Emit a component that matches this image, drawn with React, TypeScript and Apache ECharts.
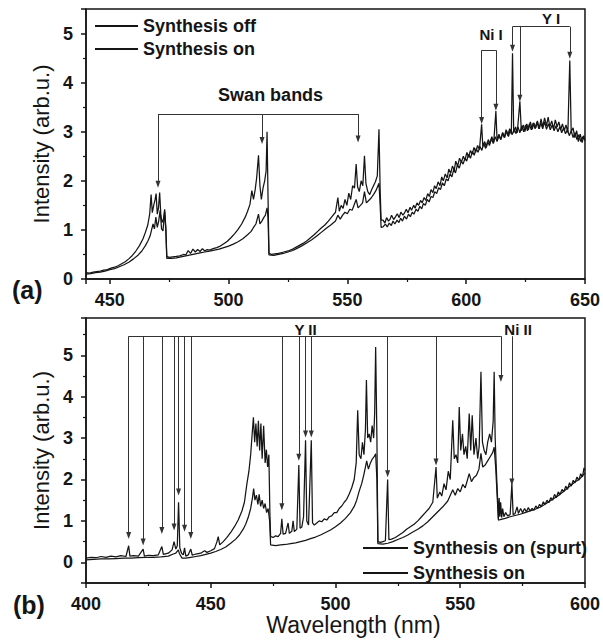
import React, { useEffect, useRef } from 'react';
import * as echarts from 'echarts';

// ---------- Panel (a): wavelength (nm), intensity (arb.u.) ----------
const aOn: [number, number][] = [
  [440,0.13],[441.5,0.12],[443,0.14],[444.5,0.15],[446,0.16],[447.5,0.18],[449,0.19],[450.5,0.22],[452,0.24],[453.5,0.27],[455,0.31],[456.5,0.35],[458,0.41],[459.5,0.48],[461,0.57],[462.5,0.68],[464,0.82],[465,0.95],[466,1.1],[466.8,1.32],[467.4,1.72],[467.9,1.35],[468.5,1.5],[469.1,1.62],[469.5,1.74],[470,1.32],[470.5,1.45],[471,1.76],[471.5,1.3],[472,1.15],[472.6,1.22],[473.1,1.42],[473.6,1.05],[474,0.46],[475,0.44],[476.5,0.45],[478,0.46],[479.5,0.47],[481,0.5],[482,0.49],[483,0.58],[484,0.52],[485,0.61],[486,0.55],[487,0.6],[488,0.56],[489,0.62],[490,0.57],[491,0.6],[492,0.59],[493.5,0.62],[495,0.64],[496.5,0.67],[498,0.72],[499.5,0.77],[501,0.84],[502.5,0.92],[504,1.01],[505.5,1.12],[507,1.26],[508,1.38],[509,1.52],[509.8,1.8],[510.5,1.62],[511.2,1.82],[511.8,2.05],[512.6,2.52],[513.2,1.9],[513.8,1.62],[514.5,1.85],[515.2,2.0],[515.8,2.2],[516.2,3.0],[516.6,1.7],[517,0.53],[518,0.5],[519.5,0.51],[521,0.52],[522.5,0.54],[524,0.56],[525.5,0.58],[527,0.61],[528.5,0.65],[530,0.69],[531.5,0.73],[533,0.78],[534.5,0.84],[536,0.9],[537.5,0.97],[539,1.04],[540.5,1.1],[542,1.18],[543.5,1.27],[545,1.36],[546,1.66],[546.6,1.38],[547.4,1.5],[548.2,1.44],[549,1.62],[549.8,1.5],[550.6,1.75],[551.4,1.62],[552.2,1.9],[553,1.85],[553.7,2.34],[554.3,1.88],[555,1.78],[555.8,2.0],[556.5,1.9],[557.2,2.51],[557.8,1.95],[558.6,1.78],[559.4,1.72],[560.2,1.82],[561,1.9],[561.8,1.98],[562.6,2.1],[563.3,3.05],[563.8,1.8],[564.2,1.2],
  [565,1.2],[565.8,1.14],[566.5,1.25],[567.3,1.18],[568,1.22],[568.6,1.3],[569.5,1.21],[570.3,1.27],[571,1.33],[571.8,1.25],[572.5,1.36],[573.4,1.3],[574,1.34],[574.8,1.42],[575.5,1.35],[576.4,1.46],[577,1.4],[577.9,1.5],[578.5,1.44],[579.3,1.55],[580,1.5],[580.8,1.6],[581.5,1.55],[582.3,1.66],[583,1.6],[583.8,1.74],[584.5,1.68],[585.2,1.82],[586,1.76],[586.7,1.9],[587.4,1.84],[588.2,1.98],[589,1.9],[589.7,2.08],[590.4,2.0],[591.2,2.14],[592,2.06],[592.7,2.24],[593.5,2.15],[594.2,2.3],[595,2.22],[595.6,2.4],[596.4,2.3],[597.2,2.46],[598,2.38],[598.8,2.5],[599.5,2.42],[600.3,2.58],[601,2.48],[601.8,2.62],[602.5,2.54],[603.3,2.68],[604,2.58],[604.8,2.72],[605.6,2.64],[606.5,3.15],[607,2.7],[607.8,2.8],[608.5,2.68],[609.3,2.84],[610,2.76],[610.8,2.9],[611.6,2.78],[612.5,3.42],[613,2.82],[613.8,2.95],[614.5,2.84],[615.3,2.98],[616,2.88],[616.8,3.04],[617.5,2.92],[618.3,3.06],[619,2.95],[619.5,4.6],[620,2.98],[620.8,3.1],[621.5,2.98],[622.6,3.62],[623.2,3.02],[624,3.14],[624.7,3.0],[625.5,3.16],[626.2,3.04],[627,3.2],[627.8,3.05],[628.5,3.18],[629.3,3.08],[630,3.22],[630.8,3.06],[631.5,3.26],[632.2,3.1],[633,3.28],[633.8,3.12],[634.5,3.3],[635.2,3.1],[636,3.22],[636.8,3.06],[637.5,3.24],[638.3,3.1],[639,3.2],[639.8,3.04],[640.5,3.16],[641.3,3.02],[642,3.14],[642.8,2.98],[643.6,4.45],[644.2,3.0],[645,3.08],[645.7,2.88],[646.5,3.02],[647.2,2.8],[648,2.95],[648.8,2.78],[649.5,2.92],[650,2.84],
];

const aOff: [number, number][] = [
  [440,0.1],[442,0.11],[444,0.13],[446,0.14],[448,0.16],[450,0.19],[452,0.21],[454,0.25],[456,0.29],[458,0.34],[460,0.41],[462,0.49],[463.5,0.57],[465,0.68],[466,0.77],[467,0.88],[467.6,1.0],[468.2,1.12],[468.8,1.02],[469.4,1.26],[470,1.05],[470.6,1.18],[471.2,1.4],[471.8,1.02],[472.4,0.98],[473.1,1.38],[473.6,0.98],[474,0.42],[476,0.42],[478,0.43],[480,0.45],[482,0.47],[484,0.49],[486,0.51],[488,0.53],[490,0.55],[492,0.57],[494,0.59],[496,0.61],[498,0.64],[500,0.67],[502,0.71],[504,0.76],[506,0.82],[508,0.9],[509.5,0.97],[510.5,1.05],[511.5,1.12],[512.6,1.32],[513.2,1.12],[514,1.18],[514.8,1.25],[515.5,1.3],[516.2,1.45],[516.6,1.25],[517,0.49],[519,0.48],[521,0.5],[523,0.52],[525,0.55],[527,0.58],[529,0.63],[531,0.68],[533,0.74],[535,0.8],[537,0.87],[539,0.95],[541,1.03],[543,1.1],[545,1.18],[546,1.3],[547,1.22],[548,1.3],[549,1.36],[550,1.33],[551,1.42],[552,1.4],[553.7,1.62],[554.5,1.45],[555.5,1.5],[556.4,1.55],[557.2,1.78],[558,1.55],[559,1.6],[560,1.65],[561,1.72],[562,1.8],[563.3,1.95],[563.8,1.5],[564.2,1.05],
  [565,1.06],[566,1.12],[566.8,1.06],[567.6,1.14],[568.5,1.09],[569.2,1.18],[570,1.12],[570.9,1.2],[571.7,1.15],[572.4,1.24],[573.2,1.18],[574,1.28],[574.9,1.22],[575.7,1.32],[576.5,1.27],[577.3,1.36],[578,1.32],[578.9,1.42],[579.7,1.38],[580.5,1.48],[581.3,1.43],[582,1.54],[582.8,1.5],[583.6,1.62],[584.4,1.57],[585.2,1.68],[586,1.66],[586.8,1.78],[587.6,1.74],[588.4,1.86],[589.2,1.82],[590,1.96],[590.8,1.9],[591.6,2.04],[592.4,2.0],[593.2,2.14],[594,2.08],[594.8,2.24],[595.5,2.16],[596.3,2.32],[597.1,2.26],[597.9,2.4],[598.7,2.34],[599.5,2.46],[600.2,2.4],[601,2.54],[601.8,2.46],[602.6,2.6],[603.4,2.52],[604.2,2.66],[605,2.58],[605.8,2.7],[606.6,2.62],[607.4,2.76],[608.2,2.66],[609,2.8],[609.8,2.72],[610.6,2.86],[611.4,2.76],[612.2,2.9],[613,2.8],[613.8,2.92],[614.6,2.84],[615.4,2.98],[616.2,2.88],[617,3.02],[617.8,2.9],[618.6,3.04],[619.4,2.94],[620.2,3.06],[621,2.96],[621.8,3.1],[622.6,2.98],[623.4,3.12],[624.2,3.0],[625,3.14],[625.8,3.02],[626.6,3.16],[627.4,3.04],[628.2,3.18],[629,3.06],[629.8,3.2],[630.6,3.06],[631.4,3.18],[632.2,3.06],[633,3.2],[633.8,3.05],[634.6,3.16],[635.4,3.04],[636.2,3.14],[637,3.02],[637.8,3.12],[638.6,3.0],[639.4,3.1],[640.2,2.98],[641,3.08],[641.8,2.96],[642.6,3.04],[643.4,2.92],[644.2,3.02],[645,2.88],[645.8,2.98],[646.6,2.84],[647.4,2.94],[648.2,2.8],[649,2.9],[650,2.82],
];

// ---------- Panel (b) ----------
const bSpurt: [number, number][] = [
  [400,0.1],[402,0.12],[404,0.11],[406,0.14],[408,0.12],[410,0.15],[412,0.13],[414,0.16],[416,0.14],[417.1,0.4],[417.6,0.15],[419,0.16],[421,0.15],[422.9,0.32],[423.4,0.15],[425,0.17],[427,0.16],[429,0.18],[430.4,0.38],[431,0.19],[433,0.22],[434.5,0.3],[435.3,0.5],[436,0.32],[436.6,0.4],[437.1,1.45],[437.6,0.35],[438.3,0.22],[439,0.18],[439.5,0.35],[440,0.15],[441,0.18],[442,0.32],[442.6,0.17],[444,0.2],[446,0.22],[447.5,0.28],[448.5,0.24],[450,0.28],[451.5,0.33],[452.5,0.5],[453,0.62],[453.6,0.42],[455,0.5],[456.5,0.6],[458,0.72],[459.5,0.86],[461,1.02],[462.5,1.24],[463.5,1.45],[464.5,1.9],[465.3,2.2],[466,2.6],[466.6,3.1],[467.1,3.5],[467.6,2.9],[468.1,3.35],[468.6,2.8],[469.1,3.42],[469.6,2.7],[470.1,3.35],[470.6,2.5],[471.2,3.3],[471.8,2.4],[472.3,2.72],[472.8,2.3],[473.3,2.6],[473.7,1.2],[474,0.62],[475,0.6],[476,0.64],[477,0.62],[478,0.7],[478.5,1.05],[479,0.68],[480,0.7],[481,0.95],[481.5,0.7],[482.5,0.75],[483,1.0],[483.5,0.74],[484.5,0.8],[485.3,2.35],[485.8,0.82],[486.5,0.85],[487.2,1.1],[488,2.95],[488.5,1.0],[489.2,0.9],[490.3,2.95],[490.8,0.95],[491.5,0.9],[492.5,0.95],[493.5,1.0],[494.5,0.98],[495.5,1.05],[496.5,1.02],[497.5,1.1],[498.5,1.12],[499.5,1.2],[500.5,1.2],[501.5,1.3],[502.5,1.36],[503.5,1.45],[504.5,1.52],[505.5,1.65],[506.5,1.8],[507.5,2.0],[508.3,2.4],[508.9,3.67],[509.5,2.6],[510.2,2.5],[510.8,2.9],[511.4,2.6],[512,3.2],[512.4,4.4],[512.9,3.0],[513.5,3.1],[514.1,2.9],[514.7,3.3],[515.3,3.0],[515.7,3.6],[516.1,5.2],[516.6,3.0],[517,0.5],[518,0.48],[519,0.5],[520,0.52],[520.9,2.0],[521.4,0.55],[522.5,0.56],[524,0.6],[525.5,0.66],[527,0.72],[528.5,0.8],[530,0.86],[531.5,0.92],[533,1.0],[534.5,1.1],[536,1.2],[537.5,1.3],[539,1.45],[540.3,2.3],[540.8,1.55],[541.8,1.7],[542.6,1.6],[543.5,1.9],[544.3,1.75],[545.2,2.2],[546,2.0],[547,3.43],[547.6,2.5],[548.3,2.6],[549,2.4],[549.6,3.75],[550.2,2.7],[550.9,3.1],[551.5,2.6],[552.2,2.8],[552.8,2.5],[553.6,3.59],[554.2,2.7],[554.8,3.55],[555.5,2.6],[556.3,3.0],[557,2.5],[557.6,2.8],[558.3,4.6],[558.9,2.9],[559.6,2.7],[560.3,2.6],[561,2.9],[561.8,3.1],[562.5,2.9],[563.2,3.4],[563.6,4.6],[564,3.0],[564.5,2.2],[565,1.5],[565.3,1.05],[565.6,1.55],[565.9,1.1],[566.2,1.45],[566.6,1.08],[567,1.3],[567.5,1.1],[568.2,1.2],[569,1.12],[570,1.15],[570.7,1.9],[571.2,1.15],[572,1.18],[572.8,1.34],[573.3,1.18],[574.2,1.3],[575,1.2],[575.8,1.3],[576.5,1.22],[577.3,1.32],[578,1.24],[578.8,1.3],[579.5,1.26],[580.3,1.36],[581,1.3],[581.8,1.4],[582.5,1.34],[583.3,1.46],[584,1.4],[584.8,1.5],[585.5,1.44],[586.3,1.56],[587,1.5],[587.8,1.64],[588.5,1.56],[589.3,1.7],[590,1.64],[590.8,1.76],[591.5,1.7],[592.3,1.84],[593,1.76],[593.8,1.92],[594.5,1.84],[595.3,1.98],[596,1.92],[596.8,2.06],[597.5,1.98],[598.3,2.14],[599,2.06],[599.6,2.28],[600,2.22],
];

const bOn: [number, number][] = [
  [400,0.06],[403,0.07],[406,0.08],[409,0.08],[412,0.09],[415,0.1],[418,0.1],[421,0.11],[424,0.12],[427,0.12],[430,0.13],[433,0.15],[435,0.2],[436,0.22],[437,0.3],[437.5,0.2],[438.5,0.1],[440,0.1],[442,0.12],[444,0.14],[446,0.16],[448,0.19],[450,0.22],[452,0.26],[454,0.31],[456,0.37],[458,0.46],[460,0.56],[461.5,0.66],[463,0.8],[464,0.92],[465,1.08],[466,1.3],[466.7,1.55],[467.2,1.78],[467.7,1.5],[468.3,1.62],[468.9,1.4],[469.4,1.64],[470,1.35],[470.6,1.5],[471.2,1.3],[471.8,1.42],[472.4,1.2],[473,1.3],[473.6,1.0],[474,0.42],[476,0.4],[478,0.42],[480,0.43],[482,0.45],[484,0.47],[486,0.5],[488,0.53],[490,0.57],[492,0.61],[494,0.66],[496,0.72],[498,0.78],[500,0.86],[502,0.95],[504,1.06],[506,1.2],[507.5,1.35],[508.5,1.5],[509.5,1.72],[510.5,1.9],[511.3,2.1],[512,2.3],[512.5,2.45],[513.2,2.25],[514,2.4],[514.8,2.5],[515.5,2.55],[516.1,2.62],[516.6,2.0],[517,0.45],[519,0.44],[521,0.46],[523,0.5],[525,0.55],[527,0.6],[529,0.66],[531,0.73],[533,0.8],[535,0.88],[537,0.98],[539,1.1],[541,1.22],[543,1.34],[545,1.48],[547,1.75],[548,1.62],[549,1.78],[550,1.7],[551,1.88],[552,1.8],[553.6,2.14],[554.5,1.95],[555.5,2.05],[556.5,2.1],[557.5,2.25],[558.3,2.63],[559,2.3],[560,2.35],[561,2.45],[562,2.55],[563,2.65],[563.6,2.78],[564.2,2.3],[564.8,1.6],[565.3,1.02],[566,1.03],[568,1.06],[570,1.1],[572,1.13],[574,1.16],[576,1.2],[578,1.24],[580,1.28],[582,1.33],[584,1.4],[586,1.48],[588,1.56],[590,1.64],[592,1.74],[594,1.84],[596,1.94],[598,2.02],[600,2.16],
];

// ---------- Line identification brackets (wavelength, bar level, arrow tip) ----------
const swanLines = [470.3, 514.1, 554.5];
const swanTips = [1.93, 2.82, 2.85];
const swanBar = 3.36;
const niILines = [606.5, 612.5];
const niITips = [3.23, 3.5];
const niIBar = 4.66;
const yILines = [619.5, 622.6, 643.6];
const yITips = [4.7, 3.68, 4.56];
const yIBar = 5.14;
const bLines = [417.1, 422.9, 430.4, 435.3, 437.1, 439.5, 442.0, 478.5, 485.3, 488.0, 490.3, 520.9, 540.3, 566.3];
const bTips = [0.65, 0.49, 0.77, 0.85, 1.7, 0.82, 0.65, 1.34, 2.54, 3.1, 3.1, 2.14, 2.42, 4.44];
const bBar = 5.46;
const niIILine = 570.7;
const niIITip = 1.94;

const aLabels: { name: string; coord: [number, number] }[] = [
  { name: 'Swan bands', coord: [517.7, 3.74] },
  { name: 'Ni I', coord: [610.5, 4.98] },
  { name: 'Y I', coord: [635.7, 5.3] },
];
const bLabels: { name: string; coord: [number, number] }[] = [
  { name: 'Y II', coord: [488, 5.63] },
  { name: 'Ni II', coord: [573.2, 5.63] },
];

const FONT = '"Liberation Sans", Arial, sans-serif';
const INK = '#151515';

function bracket(xs: number[], tips: number[], bar: number, withBar = true) {
  const out: any[] = [];
  if (withBar && xs.length > 1) {
    out.push([
      { coord: [Math.min(...xs), bar], symbol: 'none' },
      { coord: [Math.max(...xs), bar], symbol: 'none' },
    ]);
  }
  xs.forEach((x, i) => {
    out.push([
      { coord: [x, bar], symbol: 'none' },
      { coord: [x, tips[i]], symbol: 'triangle' },
    ]);
  });
  return out;
}

function axisCommon() {
  return {
    type: 'value',
    axisLine: { show: true, onZero: false, lineStyle: { color: INK, width: 1.5 } },
    axisTick: { show: true, inside: false, length: 5, lineStyle: { color: INK, width: 1.5 } },
    minorTick: { show: true, splitNumber: 2, length: 3, lineStyle: { color: INK, width: 1.2 } },
    splitLine: { show: false },
    minorSplitLine: { show: false },
  };
}

function labelStyle(margin: number, fmt: (v: number) => string) {
  return {
    show: true,
    margin,
    color: INK,
    fontSize: 18,
    fontWeight: 'bold',
    fontFamily: FONT,
    formatter: fmt,
  };
}

const intFmt = (v: number) => (Math.abs(v - Math.round(v)) < 1e-9 ? String(Math.round(v)) : '');
const fiftyFmt = (v: number) => (Math.abs(v % 50) < 1e-9 ? String(v) : '');

const markLineBase = {
  silent: true,
  symbolSize: [5, 7],
  label: { show: false },
  lineStyle: { color: '#333', width: 1, type: 'solid' },
  emphasis: { disabled: true },
  animation: false,
};

function markPointFrom(labels: { name: string; coord: [number, number] }[], sizes: number[]) {
  return {
    silent: true,
    symbol: 'rect',
    symbolSize: 1,
    itemStyle: { color: 'rgba(0,0,0,0)' },
    animation: false,
    data: labels.map((l, i) => ({
      name: l.name,
      coord: l.coord,
      label: {
        show: true,
        position: 'inside',
        formatter: '{b}',
        color: INK,
        fontSize: sizes[i],
        fontWeight: 'bold',
        fontFamily: FONT,
      },
    })),
  };
}

export default function App() {
  const ref = useRef<HTMLDivElement>(null);
  useEffect(() => {
    if (!ref.current) return;
    const chart = echarts.init(ref.current, null, { renderer: 'svg' });
    const lineStyle = { color: INK, width: 1.25 };
    const option: any = {
      animation: false,
      backgroundColor: '#ffffff',
      textStyle: { fontFamily: FONT },
      grid: [
        { left: 86, top: 9, width: 500, height: 270, show: true, borderColor: INK, borderWidth: 1.5, backgroundColor: 'transparent' },
        { left: 86, top: 318, width: 500, height: 265, show: true, borderColor: INK, borderWidth: 1.5, backgroundColor: 'transparent' },
      ],
      xAxis: [
        { ...axisCommon(), gridIndex: 0, min: 440, max: 650, axisLabel: labelStyle(12, fiftyFmt) },
        {
          ...axisCommon(), gridIndex: 1, min: 400, max: 600, axisLabel: labelStyle(12, fiftyFmt),
          name: 'Wavelength (nm)', nameLocation: 'middle', nameGap: 28,
          nameTextStyle: { fontSize: 23, color: INK, fontFamily: FONT, padding: [0, 0, 0, 36] },
        },
      ],
      yAxis: [
        {
          ...axisCommon(), gridIndex: 0, min: 0, max: 5.5, axisLabel: labelStyle(13, intFmt),
          name: 'Intensity (arb.u.)', nameLocation: 'middle', nameGap: 30,
          nameTextStyle: { fontSize: 22, color: INK, fontFamily: FONT },
        },
        {
          ...axisCommon(), gridIndex: 1, min: -0.5, max: 5.9, axisLabel: labelStyle(13, intFmt),
          name: 'Intensity (arb.u.)', nameLocation: 'middle', nameGap: 30,
          nameTextStyle: { fontSize: 22, color: INK, fontFamily: FONT },
        },
      ],
      legend: [
        {
          data: ['Synthesis off', 'Synthesis on'], orient: 'vertical', left: 95, top: 16,
          itemWidth: 43, itemHeight: 2, icon: 'rect', itemGap: 3, padding: 0, selectedMode: false,
          textStyle: { fontSize: 18, fontWeight: 'bold', color: INK, lineHeight: 20, fontFamily: FONT },
        },
        {
          data: ['Synthesis on (spurt)', 'Synthesis on'], orient: 'vertical', left: 363, top: 538,
          itemWidth: 45, itemHeight: 2, icon: 'rect', itemGap: 5, padding: 0, selectedMode: false,
          textStyle: { fontSize: 18, fontWeight: 'bold', color: INK, lineHeight: 20, fontFamily: FONT },
        },
      ],
      graphic: [
        { type: 'text', left: 12, top: 277, style: { text: '(a)', fontSize: 25, fontWeight: 'bold', fill: INK, fontFamily: FONT } },
        { type: 'text', left: 13, top: 592, style: { text: '(b)', fontSize: 25, fontWeight: 'bold', fill: INK, fontFamily: FONT } },
      ],
      series: [
        {
          name: 'Synthesis off', type: 'line', xAxisIndex: 0, yAxisIndex: 0, data: aOff,
          showSymbol: false, symbol: 'none', lineStyle, itemStyle: { color: INK }, z: 2,
        },
        {
          name: 'Synthesis on', type: 'line', xAxisIndex: 0, yAxisIndex: 0, data: aOn,
          showSymbol: false, symbol: 'none', lineStyle, itemStyle: { color: INK }, z: 3,
          markLine: {
            ...markLineBase,
            data: [
              ...bracket(swanLines, swanTips, swanBar),
              ...bracket(niILines, niITips, niIBar),
              ...bracket(yILines, yITips, yIBar),
            ],
          },
          markPoint: markPointFrom(aLabels, [18, 15, 15]),
        },
        {
          name: 'Synthesis on (spurt)', type: 'line', xAxisIndex: 1, yAxisIndex: 1, data: bSpurt,
          showSymbol: false, symbol: 'none', lineStyle, itemStyle: { color: INK }, z: 3,
          markLine: {
            ...markLineBase,
            data: [
              ...bracket(bLines, bTips, bBar),
              ...bracket([niIILine], [niIITip], bBar, false),
            ],
          },
          markPoint: markPointFrom(bLabels, [15, 15]),
        },
        {
          name: 'Synthesis on', type: 'line', xAxisIndex: 1, yAxisIndex: 1, data: bOn,
          showSymbol: false, symbol: 'none', lineStyle, itemStyle: { color: INK }, z: 2,
        },
      ],
    };
    chart.setOption(option);
    return () => chart.dispose();
  }, []);
  return <div ref={ref} style={{ position: 'absolute', left: 0, top: 0, width: 603, height: 641 }} />;
}
